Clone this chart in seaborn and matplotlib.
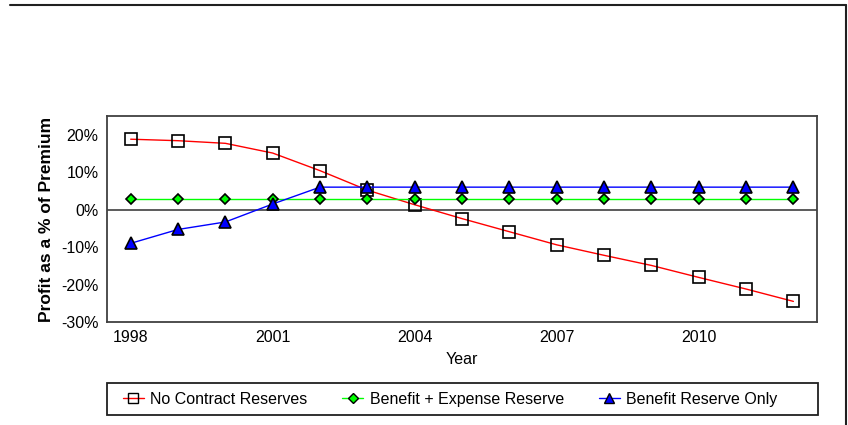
import numpy as np
import pandas as pd
import matplotlib
matplotlib.use("Agg")
import matplotlib.pyplot as plt
import seaborn as sns
from matplotlib.patches import Rectangle
from matplotlib.lines import Line2D
from matplotlib.ticker import MultipleLocator, FuncFormatter

# Data (profit as % of premium)
years = list(range(1998, 2013))
no_contract = [18.8, 18.4, 17.7, 15.1, 10.4, 5.2, 1.3, -2.4, -5.9, -9.4,
               -12.2, -14.9, -18.1, -21.2, -24.5]
benefit_expense = [2.8] * 15
benefit_only = [-9.0, -5.3, -3.3, 1.5, 6.0, 6.0, 6.0, 6.0, 6.0, 6.0,
                6.0, 6.0, 6.0, 6.0, 6.0]
series_names = ["No Contract Reserves", "Benefit + Expense Reserve", "Benefit Reserve Only"]

sns.set_style("white")
plt.rcParams['font.family'] = ['Liberation Sans', 'DejaVu Sans']
plt.rcParams['text.color'] = 'black'
plt.rcParams['axes.labelcolor'] = 'black'
plt.rcParams['xtick.color'] = 'black'
plt.rcParams['ytick.color'] = 'black'

df = pd.DataFrame({"Year": years,
                   series_names[0]: no_contract,
                   series_names[1]: benefit_expense,
                   series_names[2]: benefit_only})

fig = plt.figure(figsize=(8.48, 4.25), dpi=100)
ax = fig.add_axes([0.1262, 0.2424, 0.8373, 0.4847])

styles = {
    series_names[0]: dict(color="#FF0000", marker="s", mfc="none", mec="black", ms=8.5),
    series_names[1]: dict(color="#00FF00", marker="D", mfc="#00FF00", mec="black", ms=5.5),
    series_names[2]: dict(color="#0000FF", marker="^", mfc="#0000FF", mec="black", ms=9),
}

ax.axhline(0, color="#404040", lw=1.2, zorder=1)
for name in series_names:
    st = styles[name]
    sns.lineplot(data=df, x="Year", y=name, ax=ax, color=st["color"], lw=1,
                 marker=st["marker"], markersize=st["ms"],
                 markerfacecolor=st["mfc"], markeredgecolor=st["mec"],
                 markeredgewidth=1.2, zorder=3)

ax.set_xlim(1997.5, 2012.5)
ax.set_ylim(-30, 25)
ax.xaxis.set_major_locator(MultipleLocator(3))
ax.xaxis.set_minor_locator(MultipleLocator(1))
ax.yaxis.set_major_locator(MultipleLocator(10))
ax.yaxis.set_minor_locator(MultipleLocator(5))
ax.yaxis.set_major_formatter(FuncFormatter(lambda v, p: f"{v:.0f}%"))
ax.tick_params(axis="both", which="both", direction="in", length=8, width=1,
               color="#202020", labelsize=11.5, pad=6)
ax.tick_params(axis="y", which="major", pad=6)
for sp in ax.spines.values():
    sp.set_color("#404040")
    sp.set_linewidth(1.3)

ax.set_xlabel("Year", fontsize=11.5, labelpad=5)
ax.set_ylabel("Profit as a % of Premium", fontsize=12.5, fontweight="bold", labelpad=5)

# legend box below plot
fig.patches.append(Rectangle((0.1262, 0.0235), 0.8384, 0.0753, transform=fig.transFigure,
                             fill=False, edgecolor="#202020", lw=1.3))
handles = [Line2D([], [], color=styles[n]["color"], lw=1, marker=styles[n]["marker"],
                  markersize=styles[n]["ms"] * 0.85, markerfacecolor=styles[n]["mfc"],
                  markeredgecolor=styles[n]["mec"]) for n in series_names]
fig.legend(handles, series_names, loc="center left", bbox_to_anchor=(0.128, 0.061),
           ncol=3, frameon=False, fontsize=11.5, handlelength=1.3, handletextpad=0.4,
           columnspacing=2.2)

# outer frame lines (top and right)
fig.add_artist(Line2D([0.012, 0.9976], [0.988, 0.988], transform=fig.transFigure,
                      color="#202020", lw=1.5))
fig.add_artist(Line2D([0.9976, 0.9976], [0.988, 0.0], transform=fig.transFigure,
                      color="#202020", lw=1.5))

fig.savefig("out.png", dpi=100)
